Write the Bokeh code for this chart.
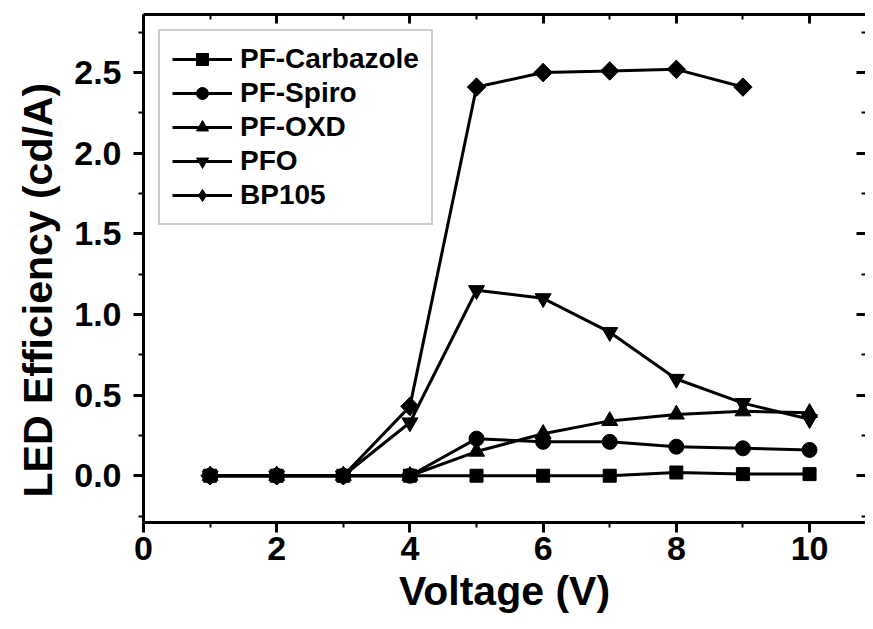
from bokeh.plotting import figure
from bokeh.models import LinearAxis, FixedTicker, Range1d, Legend, LegendItem, Title
from bokeh.embed import file_html
from bokeh.resources import INLINE

# ---- data ----
voltage = [1, 2, 3, 4, 5, 6, 7, 8, 9, 10]
pf_carbazole = [0.0, 0.0, 0.0, 0.0, 0.0, 0.0, 0.0, 0.02, 0.01, 0.01]
pf_spiro = [0.0, 0.0, 0.0, 0.0, 0.23, 0.21, 0.21, 0.18, 0.17, 0.16]
pf_oxd = [0.0, 0.0, 0.0, 0.0, 0.15, 0.26, 0.34, 0.38, 0.40, 0.39]
pfo = [0.0, 0.0, 0.0, 0.33, 1.15, 1.10, 0.89, 0.60, 0.45, 0.35]
bp105_v = [1, 2, 3, 4, 5, 6, 7, 8, 9]
bp105 = [0.0, 0.0, 0.0, 0.43, 2.41, 2.50, 2.51, 2.52, 2.41]

series_names = ["PF-Carbazole", "PF-Spiro", "PF-OXD", "PFO", "BP105"]

x_major = [0, 2, 4, 6, 8, 10]
x_minor = [1, 3, 5, 7, 9]
y_major = [0.0, 0.5, 1.0, 1.5, 2.0, 2.5]
y_minor = [-0.25, 0.25, 0.75, 1.25, 1.75, 2.25, 2.75]

FONT = "Liberation Sans"

p = figure(width=865, height=621, output_backend="svg", toolbar_location=None,
           x_range=Range1d(0, 10.84), y_range=Range1d(-0.29, 2.86),
           min_border_left=143, min_border_right=0, min_border_top=14,
           min_border_bottom=99, background_fill_color="white",
           border_fill_color="white", outline_line_color=None)
p.grid.visible = False

xt = FixedTicker(ticks=x_major, minor_ticks=x_minor)
yt = FixedTicker(ticks=y_major, minor_ticks=y_minor)

for ax in (p.xaxis[0], p.yaxis[0]):
    ax.axis_line_width = 3
    ax.axis_line_color = "black"
    ax.major_tick_line_width = 3
    ax.minor_tick_line_width = 2
    ax.major_tick_in = 0
    ax.major_tick_out = 10
    ax.minor_tick_in = 0
    ax.minor_tick_out = 5
    ax.major_label_text_font = FONT
    ax.major_label_text_font_style = "bold"
    ax.major_label_text_font_size = "34px"
    ax.major_label_text_color = "black"
    ax.axis_label_text_font = FONT
    ax.axis_label_text_font_style = "bold"
    ax.axis_label_text_font_size = "41px"
    ax.axis_label_text_color = "black"

p.xaxis[0].ticker = xt
p.yaxis[0].ticker = yt
p.xaxis[0].axis_label = "Voltage (V)"
p.xaxis[0].major_label_standoff = 4
p.xaxis[0].axis_label_standoff = 5
p.yaxis[0].major_label_standoff = 12
p.yaxis[0].major_label_overrides = {v: f"{v:.1f}" for v in y_major}

ylab = Title(text="LED Efficiency (cd/A)", align="left", offset=25,
             text_font=FONT, text_font_style="bold", text_font_size="41px",
             text_color="black", standoff=22)
p.add_layout(ylab, "left")


def mirror_axis(ticks, length, width, line):
    return LinearAxis(ticker=FixedTicker(ticks=[], minor_ticks=ticks),
                      minor_tick_in=length, minor_tick_out=0,
                      minor_tick_line_width=width, minor_tick_line_color="black",
                      axis_line_width=3,
                      axis_line_color="black" if line else None,
                      major_tick_in=0, major_tick_out=0, major_label_standoff=0)


p.add_layout(mirror_axis(x_major, 9, 3, True), "above")
p.add_layout(mirror_axis(x_minor, 5, 2, False), "above")
p.add_layout(mirror_axis(y_major, 9, 3, False), "right")
p.add_layout(mirror_axis(y_minor, 4, 2, False), "right")

data = [
    (voltage, pf_carbazole, "square", 13, 0.0),
    (voltage, pf_spiro, "circle", 15, 0.0),
    (voltage, pf_oxd, "triangle", 16, 0.0),
    (voltage, pfo, "inverted_triangle", 16, 0.0),
    (bp105_v, bp105, "diamond", 18, 0.0),
]

items = []
for (xs, ys, mk, sz, ang), name in zip(data, series_names):
    l = p.line(xs, ys, line_color="black", line_width=3)
    s = p.scatter(xs, ys, marker=mk, size=sz, angle=ang, fill_color="black",
                  line_color="black")
    items.append(LegendItem(label=name, renderers=[l, s]))

# BP105 points are drawn as squares turned 45 degrees (wider than bokeh's diamond)
p.scatter(bp105_v, bp105, marker="square", size=13, angle=0.785398,
          fill_color="black", line_color="black")

legend = Legend(items=items, location="top_left", margin=15,
                border_line_color="#999999", border_line_width=2,
                background_fill_alpha=1.0,
                label_text_font=FONT, label_text_font_style="bold",
                label_text_font_size="28px", label_text_color="black",
                glyph_width=60, glyph_height=30, label_height=30, spacing=2,
                padding=12, label_standoff=8)
p.add_layout(legend)

open("out.html", "w").write(file_html(p, INLINE))
